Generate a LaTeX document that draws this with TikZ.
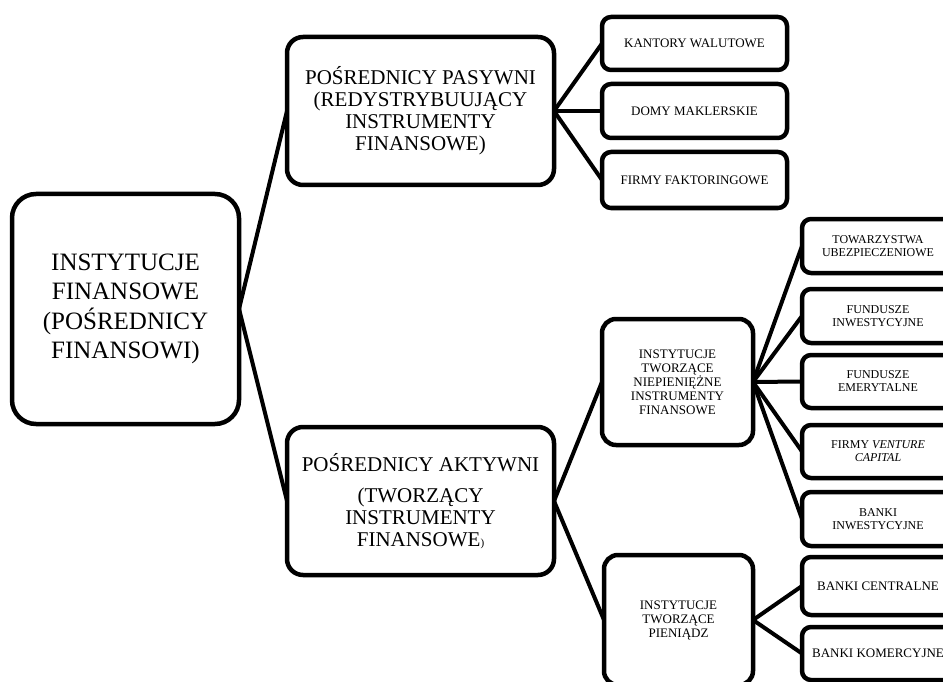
\documentclass[tikz,border=0pt]{standalone}
\usepackage{fontspec}
\setmainfont{Liberation Serif}

\begin{document}
\begin{tikzpicture}[x=1pt,y=-1pt,
    box/.style={draw,fill=white,line width=4.5pt,rounded corners=#1,
      align=center,inner sep=0pt},
    box/.default=9pt,
    link/.style={line width=4pt},
    big/.style={font=\fontsize{21}{22}\selectfont},
    small/.style={font=\fontsize{13}{14}\selectfont},
    tiny/.style={font=\fontsize{12}{13}\selectfont}]
\useasboundingbox (0,0) rectangle (943,682);
\clip (0,0) rectangle (943,682);

% links first
\coordinate (a) at (239,309);
\coordinate (p) at (554,111);
\coordinate (k) at (554,501);
\coordinate (n) at (753,382);
\coordinate (m) at (753,620);
\draw[link] (a) -- (287,111);
\draw[link] (a) -- (287,501);
\foreach \y in {43.5,111,180}
{
\draw[link] (p) -- (602,\y);
}
\draw[link] (k) -- (602,382);
\draw[link] (k) -- (604,620);
\foreach \y in {246,316,381.5,451.5,519}
{
\draw[link] (n) -- (802,\y);
}
\draw[link] (m) -- (802,586);
\draw[link] (m) -- (802,653.5);

% boxes
\node[box=24pt,minimum width=227pt,minimum height=230pt,
  font=\fontsize{25}{29.5}\selectfont] (inst) at (125.5,309)
  {INSTYTUCJE\\FINANSOWE\\(POŚREDNICY\\FINANSOWI)};
\node[box=16pt,big,minimum width=267pt,minimum height=148pt] (pas) at (420.5,111)
  {POŚREDNICY PASYWNI\\(REDYSTRYBUUJĄCY\\INSTRUMENTY\\FINANSOWE)};
\node[box=16pt,big,minimum width=267pt,minimum height=148pt] (akt) at (420.5,501)
  {POŚREDNICY AKTYWNI\\[9pt](TWORZĄCY\\INSTRUMENTY\\FINANSOWE{\fontsize{11}{11}\selectfont)}};

\node[box,small,minimum width=185pt,minimum height=53pt] (kant) at (694.5,43.5)
  {KANTORY WALUTOWE};
\node[box,small,minimum width=185pt,minimum height=54pt] (domy) at (694.5,111)
  {DOMY MAKLERSKIE};
\node[box,small,minimum width=185pt,minimum height=56pt] (fakt) at (694.5,180)
  {FIRMY FAKTORINGOWE};

\node[box=14pt,small,minimum width=151pt,minimum height=126pt] (niep) at (677.5,382)
  {INSTYTUCJE\\TWORZĄCE\\NIEPIENIĘŻNE\\INSTRUMENTY\\FINANSOWE};
\node[box=14pt,small,minimum width=149pt,minimum height=130pt] (pien) at (678.5,620)
  {INSTYTUCJE\\TWORZĄCE\\PIENIĄDZ};

\node[box,tiny,minimum width=152pt,minimum height=54pt] (tow) at (878,246)
  {TOWARZYSTWA\\UBEZPIECZENIOWE};
\node[box,tiny,minimum width=152pt,minimum height=54pt] (finw) at (878,316)
  {FUNDUSZE\\INWESTYCYJNE};
\node[box,tiny,minimum width=152pt,minimum height=53pt] (femer) at (878,381.5)
  {FUNDUSZE\\EMERYTALNE};
\node[box,tiny,minimum width=152pt,minimum height=53pt] (vc) at (878,451.5)
  {FIRMY \textit{VENTURE}\\\textit{CAPITAL}};
\node[box,tiny,minimum width=152pt,minimum height=54pt] (binw) at (878,519)
  {BANKI\\INWESTYCYJNE};
\node[box,small,minimum width=152pt,minimum height=58pt] (bcen) at (878,586)
  {BANKI CENTRALNE};
\node[box,small,minimum width=152pt,minimum height=53pt] (bkom) at (878,653.5)
  {BANKI KOMERCYJNE};
\end{tikzpicture}
\end{document}
